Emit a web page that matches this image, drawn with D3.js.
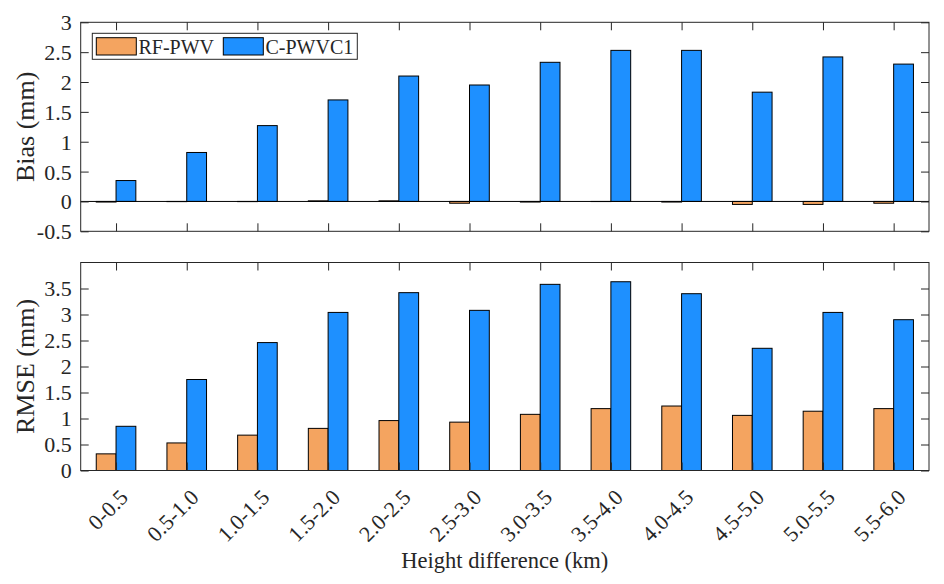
<!DOCTYPE html>
<html>
<head>
<meta charset="utf-8">
<script src="https://cdn.jsdelivr.net/npm/d3@7"></script>
<style>
  body { margin: 0; background: #fff; }
  svg, svg text { font-family: "Liberation Serif", "Times New Roman", serif; }
  svg { display: block; }
</style>
</head>
<body>
<svg width="944" height="584"></svg>
<script>
const categories = ["0-0.5", "0.5-1.0", "1.0-1.5", "1.5-2.0", "2.0-2.5", "2.5-3.0",
  "3.0-3.5", "3.5-4.0", "4.0-4.5", "4.5-5.0", "5.0-5.5", "5.5-6.0"];
const seriesNames = ["RF-PWV", "C-PWVC1"];

const biasRF = [-0.01, -0.003, -0.003, 0.01, 0.01, -0.03, -0.01, -0.002, -0.01, -0.05, -0.05, -0.03];
const biasC = [0.35, 0.82, 1.27, 1.70, 2.10, 1.95, 2.33, 2.53, 2.53, 1.83, 2.42, 2.30];
const rmseRF = [0.32, 0.53, 0.68, 0.81, 0.96, 0.93, 1.08, 1.19, 1.24, 1.06, 1.14, 1.19];
const rmseC = [0.85, 1.75, 2.46, 3.04, 3.42, 3.08, 3.58, 3.63, 3.40, 2.35, 3.04, 2.90];

const biasTicks = [-0.5, 0, 0.5, 1, 1.5, 2, 2.5, 3];
const rmseTicks = [0, 0.5, 1, 1.5, 2, 2.5, 3, 3.5];

const colors = ["#F4A460", "#1E90FF"];
const ink = "#262626";
const serif = "'Liberation Serif', 'Times New Roman', serif";

const svg = d3.select("svg");
const left = 80.7, right = 929;
const barW = 0.28;
const tickLen = 8;

const x = d3.scaleLinear().domain([0.5, categories.length + 0.5]).range([left, right]);
const idx = d3.range(1, categories.length + 1);

function panel(top, bottom, domain, ticks, series, ylabel) {
  const y = d3.scaleLinear().domain(domain).range([bottom, top]);
  const g = svg.append("g");

  // bars
  series.forEach((vals, s) => {
    g.append("g")
      .selectAll("rect")
      .data(vals)
      .join("rect")
      .attr("x", (d, i) => s === 0 ? x(idx[i] - barW) : x(idx[i]))
      .attr("width", x(barW) - x(0))
      .attr("y", d => y(Math.max(0, d)))
      .attr("height", d => Math.abs(y(d) - y(0)))
      .attr("fill", colors[s])
      .attr("stroke", "#000")
      .attr("stroke-width", 1);
  });

  // zero baseline
  if (domain[0] < 0) {
    g.append("line")
      .attr("x1", left).attr("x2", right)
      .attr("y1", y(0)).attr("y2", y(0))
      .attr("stroke", "#000").attr("stroke-width", 1);
  }

  const yl = g.append("g").attr("transform", `translate(${left},0)`)
    .call(d3.axisLeft(y).tickValues(ticks).tickFormat(d => String(d)).tickSize(-tickLen).tickPadding(9));
  const yr = g.append("g").attr("transform", `translate(${right},0)`)
    .call(d3.axisRight(y).tickValues(ticks).tickFormat("").tickSize(-tickLen));
  const xt = g.append("g").attr("transform", `translate(0,${top})`)
    .call(d3.axisTop(x).tickValues(idx).tickFormat("").tickSize(-tickLen));
  const xb = g.append("g").attr("transform", `translate(0,${bottom})`)
    .call(d3.axisBottom(x).tickValues(idx).tickFormat("").tickSize(-tickLen));

  [yl, yr, xt, xb].forEach(a => {
    a.attr("font-family", serif).attr("font-size", 22);
    a.select(".domain").remove();
    a.selectAll("line").attr("stroke", ink);
  });
  yl.selectAll("text")
    .attr("fill", ink)
    .attr("font-family", serif)
    .attr("dy", "0.34em");

  // box
  g.append("rect")
    .attr("x", left).attr("y", top)
    .attr("width", right - left).attr("height", bottom - top)
    .attr("fill", "none").attr("stroke", ink).attr("stroke-width", 1);

  g.append("text")
    .attr("transform", `translate(25,${(top + bottom) / 2}) rotate(-90)`)
    .attr("text-anchor", "middle")
    .attr("dominant-baseline", "central")
    .attr("fill", ink)
    .attr("font-family", serif)
    .attr("font-size", 26)
    .text(ylabel);

  return { g, y, xb };
}

const p1 = panel(22.3, 231.3, [-0.5, 3], biasTicks, [biasRF, biasC], "Bias (mm)");
const p2 = panel(262.5, 470.5, [0, 4], rmseTicks, [rmseRF, rmseC], "RMSE (mm)");

// rotated category labels under the lower panel
p2.g.append("g")
  .selectAll("text")
  .data(categories)
  .join("text")
  .attr("transform", (d, i) => `translate(${x(idx[i]) + 8},${470.5 + 23}) rotate(-45)`)
  .attr("text-anchor", "end")
  .attr("dominant-baseline", "central")
  .attr("fill", ink)
  .attr("font-family", serif)
  .attr("font-size", 22)
  .text(d => d);

svg.append("text")
  .attr("x", (left + right) / 2)
  .attr("y", 568)
  .attr("text-anchor", "middle")
  .attr("fill", ink)
  .attr("font-family", serif)
  .attr("font-size", 22.5)
  .text("Height difference (km)");

// legend
const lg = svg.append("g");
lg.append("rect")
  .attr("x", 92.3).attr("y", 33.3).attr("width", 265).attr("height", 26)
  .attr("fill", "#fff").attr("stroke", ink).attr("stroke-width", 1);
const items = lg.selectAll("g.item")
  .data(seriesNames)
  .join("g")
  .attr("class", "item")
  .attr("transform", (d, i) => `translate(${i === 0 ? 96.3 : 223.3},0)`);
items.append("rect")
  .attr("y", 37.7).attr("width", 40).attr("height", 17.3)
  .attr("fill", (d, i) => colors[i])
  .attr("stroke", "#000").attr("stroke-width", 1);
items.append("text")
  .attr("x", 42.2).attr("y", 53.5)
  .attr("fill", ink)
  .attr("font-family", serif)
  .attr("font-size", 20)
  .text(d => d);
</script>
</body>
</html>
